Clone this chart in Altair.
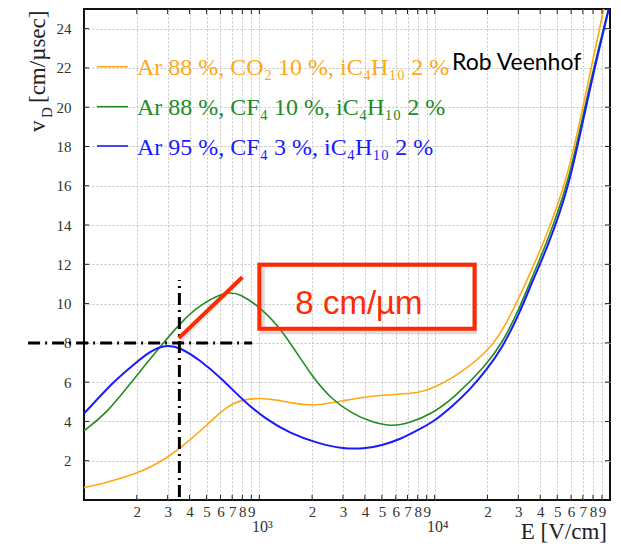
import altair as alt
import pandas as pd

# ---------------- data ----------------
E_orange = [100, 123, 200, 297, 402, 502, 596, 706, 805, 1000, 1259, 1553, 1995, 2213, 2994,
            4100, 5546, 8213, 9743, 12700, 19710, 24490, 30480, 36300, 40540, 57300, 73100, 100000]
v_orange = [0.63, 0.80, 1.31, 2.10, 3.05, 3.81, 4.46, 4.92, 5.10, 5.20, 5.10, 4.92, 4.82, 4.85, 5.05,
            5.27, 5.36, 5.45, 5.70, 6.19, 7.46, 8.64, 10.34, 11.86, 12.8, 16.27, 20.8, 26.5]

E_green = [100, 135, 190, 271, 353, 458, 653, 774, 1007, 1361, 1991, 2624, 3281, 4100, 5546,
           7211, 9743, 12700, 19710, 24490, 30480, 37950, 41780, 58300, 75000, 100000]
v_green = [3.52, 4.42, 6.10, 7.79, 9.0, 9.95, 10.64, 10.50, 9.83, 8.64, 6.27, 5.08, 4.49, 4.05, 3.72,
           3.92, 4.42, 5.15, 6.86, 8.05, 9.75, 11.86, 12.7, 16.1, 20.9, 25.3]

E_blue = [100, 150, 190, 238, 290, 353, 458, 596, 805, 1104, 1493, 2128, 2994, 4100, 5058,
          6310, 8213, 9743, 12700, 15800, 19710, 24490, 30480, 36300, 43280, 58750, 75300, 100000]
v_blue = [4.40, 6.10, 6.86, 7.58, 7.90, 7.78, 7.12, 6.27, 5.08, 4.07, 3.41, 2.90, 2.60, 2.62, 2.80,
          3.07, 3.62, 3.95, 4.80, 5.60, 6.60, 7.80, 9.50, 11.2, 12.7, 15.93, 20.7, 25.25]

labels = ["Ar 88 %, CO₂ 10 %, iC₄H₁₀ 2 %",
          "Ar 88 %, CF₄ 10 %, iC₄H₁₀ 2 %",
          "Ar 95 %, CF₄ 3 %, iC₄H₁₀ 2 %"]

x_ticks = [200, 300, 400, 500, 600, 700, 800, 900, 1000,
           2000, 3000, 4000, 5000, 6000, 7000, 8000, 9000, 10000,
           20000, 30000, 40000, 50000, 60000, 70000, 80000, 90000]
y_ticks = [2, 4, 6, 8, 10, 12, 14, 16, 18, 20, 22, 24]
decades = [1000, 10000]
decade_labels = ["10³", "10⁴"]

# annotation values (data coordinates)
hline_E = [48, 910]
hline_v = 8
vline_E = 350
vline_v = [0.15, 11.2]
tangent_E = [347, 800]
tangent_v = [8.24, 11.34]
box_E = [1000, 16900]
box_v = [8.72, 11.98]
box_text_E = 3700
box_text_v = 9.45

# ---------------- styles ----------------
W, H = 526, 491
colors = ["#ffa812", "#228b22", "#1a1aff"]
widths = [1.6, 1.6, 2.0]
SERIF = "Liberation Serif"
RED = "#ff2a00"

xscale = alt.Scale(type="log", domain=[100, 100000], nice=False)
yscale = alt.Scale(domain=[0, 25], nice=False, zero=False)

label_expr = ("(datum.value == 1000 || datum.value == 10000 || datum.value == 100000) ? '' : "
              "'' + round(datum.value / pow(10, floor(log(datum.value) / LN10 + 1e-9)))")

xaxis = alt.Axis(values=x_ticks, labelExpr=label_expr, ticks=False, domain=False, grid=True,
                 gridDash=[2, 2], gridColor="#c4c4c4", gridWidth=1,
                 labelFont=SERIF, labelFontSize=15, labelColor="#333333", labelPadding=4,
                 labelFlush=False, labelOverlap=False, title=None)
yaxis = alt.Axis(values=y_ticks, ticks=False, domain=False, grid=True,
                 gridDash=[2, 2], gridColor="#c4c4c4", gridWidth=1,
                 labelFont=SERIF, labelFontSize=15, labelColor="#333333", labelPadding=13,
                 labelFlush=False, labelOverlap=False, title=None)


def X(f):
    return alt.X(f"{f}:Q", scale=xscale, axis=xaxis)


def Y(f):
    return alt.Y(f"{f}:Q", scale=yscale, axis=yaxis)


layers = []

# curves
for Es, vs, c, w in [(E_orange, v_orange, colors[0], widths[0]),
                     (E_green, v_green, colors[1], widths[1]),
                     (E_blue, v_blue, colors[2], widths[2])]:
    df = pd.DataFrame({"E": Es, "v": vs})
    layers.append(alt.Chart(df).mark_line(color=c, strokeWidth=w, interpolate="basis", clip=True)
                  .encode(x=X("E"), y=Y("v")))

# inward ticks
xt = pd.DataFrame({"E": x_ticks})
layers.append(alt.Chart(xt).mark_rule(color="#222222", strokeWidth=1)
              .encode(x=X("E"), y=alt.value(H), y2=alt.value(H - 5)))
layers.append(alt.Chart(xt).mark_rule(color="#222222", strokeWidth=1)
              .encode(x=X("E"), y=alt.value(0), y2=alt.value(5)))
yt = pd.DataFrame({"v": y_ticks})
layers.append(alt.Chart(yt).mark_rule(color="#222222", strokeWidth=1)
              .encode(y=Y("v"), x=alt.value(0), x2=alt.value(5)))
layers.append(alt.Chart(yt).mark_rule(color="#222222", strokeWidth=1)
              .encode(y=Y("v"), x=alt.value(W - 5), x2=alt.value(W)))

# decade labels
dl = pd.DataFrame({"E": decades, "t": decade_labels})
layers.append(alt.Chart(dl).mark_text(font=SERIF, fontSize=16, color="#333333", align="center",
                                      baseline="alphabetic", dx=3)
              .encode(x=X("E"), y=alt.value(H + 32), text="t:N"))

# dash-dot cross lines
hl = pd.DataFrame({"E": [hline_E[0]], "E2": [hline_E[1]], "v": [hline_v]})
layers.append(alt.Chart(hl).mark_rule(color="black", strokeWidth=3, strokeDash=[12, 5, 2, 5])
              .encode(x=X("E"), x2="E2:Q", y=Y("v")))
vl = pd.DataFrame({"E": [vline_E], "v": [vline_v[0]], "v2": [vline_v[1]]})
layers.append(alt.Chart(vl).mark_rule(color="black", strokeWidth=3, strokeDash=[12, 5, 2, 5])
              .encode(x=X("E"), y=Y("v"), y2="v2:Q"))

# red tangent
tg = pd.DataFrame({"E": [tangent_E[0]], "E2": [tangent_E[1]], "v": [tangent_v[0]], "v2": [tangent_v[1]]})
layers.append(alt.Chart(tg).mark_rule(color="#999999", strokeWidth=4, opacity=0.25, xOffset=2, yOffset=2)
              .encode(x=X("E"), x2="E2:Q", y=Y("v"), y2="v2:Q"))
layers.append(alt.Chart(tg).mark_rule(color=RED, strokeWidth=4)
              .encode(x=X("E"), x2="E2:Q", y=Y("v"), y2="v2:Q"))

# red box with shadow
bx = pd.DataFrame({"E": [box_E[0]], "E2": [box_E[1]], "v": [box_v[0]], "v2": [box_v[1]]})
layers.append(alt.Chart(bx).mark_rect(fillOpacity=0, stroke="#888888", strokeOpacity=0.3,
                                      strokeWidth=5, xOffset=3, yOffset=3)
              .encode(x=X("E"), x2="E2:Q", y=Y("v"), y2="v2:Q"))
layers.append(alt.Chart(bx).mark_rect(fill="white", fillOpacity=0, stroke=RED, strokeWidth=4)
              .encode(x=X("E"), x2="E2:Q", y=Y("v"), y2="v2:Q"))
bt = pd.DataFrame({"E": [box_text_E], "v": [box_text_v], "t": ["8 cm/µm"]})
layers.append(alt.Chart(bt).mark_text(font="Liberation Sans", fontSize=33, color=RED,
                                      align="center", baseline="alphabetic")
              .encode(x=X("E"), y=Y("v"), text="t:N"))

# legend (inside plot)
leg_line_y = [57.7, 97.7, 137]
for i, lab in enumerate(labels):
    d = pd.DataFrame({"t": [lab]})
    layers.append(alt.Chart(d).mark_rule(color=colors[i], strokeWidth=1.6)
                  .encode(x=alt.value(13), x2=alt.value(44), y=alt.value(leg_line_y[i])))
    layers.append(alt.Chart(d).mark_text(font=SERIF, fontSize=24, color=colors[i], align="left",
                                         baseline="alphabetic")
                  .encode(x=alt.value(53), y=alt.value(leg_line_y[i] + 8.5), text="t:N"))

# author text
layers.append(alt.Chart(pd.DataFrame({"t": ["Rob Veenhof"]}))
              .mark_text(font="Lato", fontSize=23, color="black", align="left", baseline="alphabetic")
              .encode(x=alt.value(368), y=alt.value(61), text="t:N"))

# axis titles as text
layers.append(alt.Chart(pd.DataFrame({"t": ["E [V/cm]"]}))
              .mark_text(font=SERIF, fontSize=23, color="#222222", align="right", baseline="alphabetic")
              .encode(x=alt.value(523), y=alt.value(H + 39), text="t:N"))
layers.append(alt.Chart(pd.DataFrame({"t": ["v"]}))
              .mark_text(font=SERIF, fontSize=23, color="#222222", align="left", baseline="alphabetic", angle=270)
              .encode(x=alt.value(-39), y=alt.value(123), text="t:N"))
layers.append(alt.Chart(pd.DataFrame({"t": ["D"]}))
              .mark_text(font=SERIF, fontSize=15, color="#222222", align="left", baseline="alphabetic", angle=270)
              .encode(x=alt.value(-32), y=alt.value(109), text="t:N"))
layers.append(alt.Chart(pd.DataFrame({"t": ["[cm/µsec]"]}))
              .mark_text(font=SERIF, fontSize=23, color="#222222", align="left", baseline="alphabetic", angle=270)
              .encode(x=alt.value(-39), y=alt.value(94), text="t:N"))

chart = alt.layer(*layers).properties(
    width=W, height=H,
    autosize=alt.AutoSizeParams(type="none"),
    padding={"left": 76, "top": 1, "right": 3, "bottom": 46},
).configure_view(stroke="#111111", strokeWidth=2)

chart.save("out.html", embed_options={"renderer": "svg", "actions": False})
